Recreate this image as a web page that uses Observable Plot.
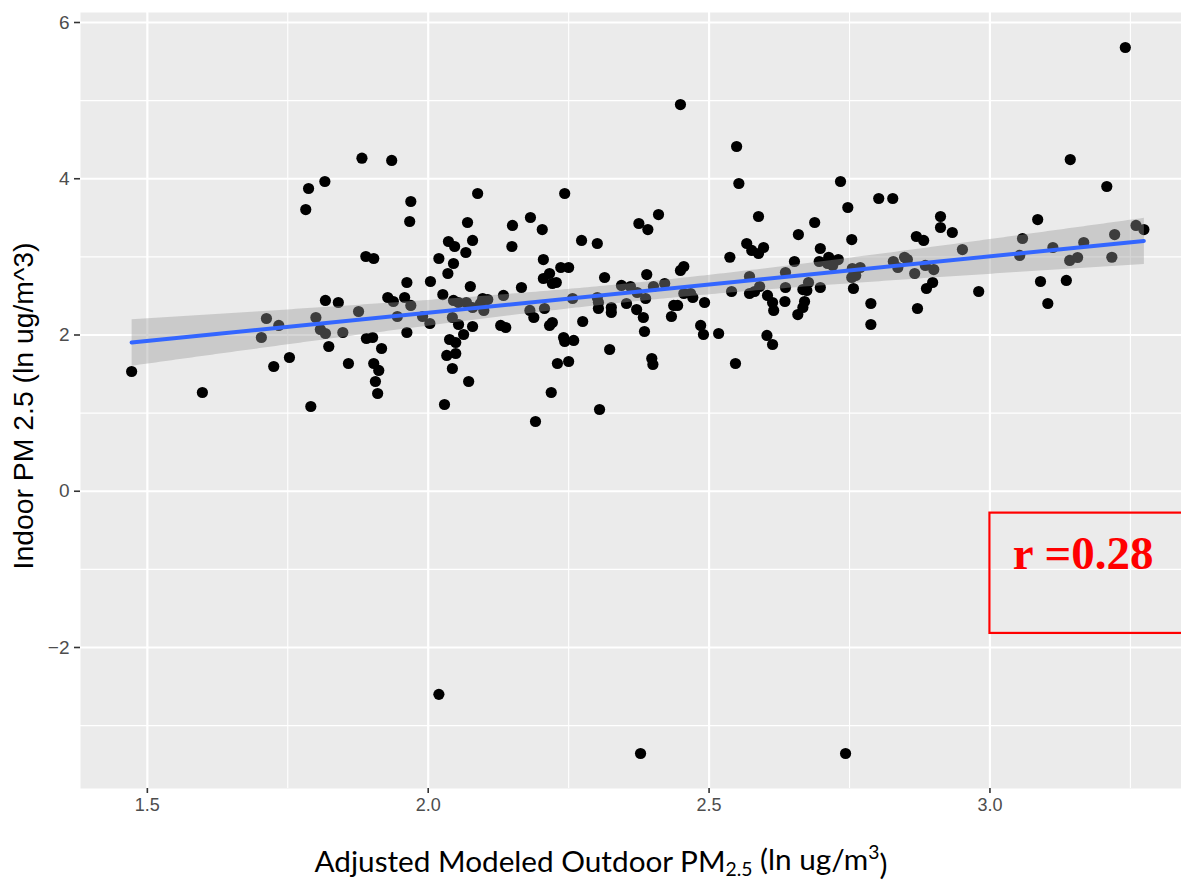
<!DOCTYPE html>
<html>
<head>
<meta charset="utf-8">
<script src="https://cdn.jsdelivr.net/npm/d3@7"></script>
<script src="https://cdn.jsdelivr.net/npm/@observablehq/plot@0.6"></script>
<style>
  html, body { margin: 0; padding: 0; background: #ffffff; overflow: hidden; }
  #chart svg { display: block; }
</style>
</head>
<body>
<div id="chart"></div>
<script>
// Adjusted modeled outdoor PM2.5 (ln ug/m3)
const outdoorPM = [
  1.882, 1.935, 1.787, 1.816, 1.782, 1.889, 1.903, 1.817, 1.840, 1.928,
  1.938, 1.712, 1.734, 1.703, 1.800, 1.808, 1.817, 1.848, 1.876, 1.945,
  1.890, 1.901, 1.823, 1.917, 1.753, 1.725, 1.858, 1.903, 1.912, 1.906,
  1.910, 1.472, 1.598, 1.791,
  2.088, 2.243, 1.969, 1.967, 2.070, 2.182, 2.150, 2.203, 2.375, 2.391,
  2.410, 2.036, 2.047, 2.079, 2.067, 2.149, 2.273, 2.301, 2.019, 2.045,
  2.035, 2.205, 2.236, 2.250, 2.216, 2.205, 2.221, 2.228, 2.166, 2.314,
  2.389, 2.449, 2.455, 1.962, 2.004, 2.075, 1.958, 1.969, 2.026, 2.045,
  2.054, 2.068, 2.097, 2.106, 2.093, 2.134, 2.257, 2.301, 2.303, 2.344,
  2.360, 2.372, 2.401, 2.421, 2.387, 2.353, 2.455, 1.990, 2.003, 1.962,
  2.043, 2.054, 2.079, 2.063, 2.099, 2.079, 2.129, 2.138, 2.181, 2.188,
  2.207, 2.216, 2.221, 2.275, 2.303, 2.326, 2.326, 2.371, 2.383, 2.385,
  2.433, 2.437, 2.444, 2.038, 2.049, 2.033, 2.049, 2.043, 2.072, 2.241,
  2.243, 2.259, 2.323, 2.230, 2.250, 2.398, 2.400, 2.219, 2.029, 2.305,
  2.191,
  2.549, 2.553, 2.734, 2.747, 2.802, 2.827, 2.588, 2.688, 2.659, 2.754,
  2.567, 2.576, 2.588, 2.597, 2.537, 2.698, 2.713, 2.730, 2.696, 2.652,
  2.711, 2.720, 2.467, 2.471, 2.492, 2.572, 2.636, 2.677, 2.590, 2.581,
  2.572, 2.540, 2.636, 2.667, 2.674, 2.698, 2.604, 2.613, 2.615, 2.635,
  2.670, 2.667, 2.658, 2.755, 2.769, 2.761, 2.754, 2.757, 2.828, 2.848,
  2.836, 2.788, 2.788, 2.485, 2.490, 2.517, 2.603, 2.613, 2.547, 2.449,
  3.241, 3.143, 3.208, 3.085, 2.912, 2.912, 2.933, 2.869, 2.882, 2.951,
  2.853, 2.885, 2.900, 2.866, 2.898, 2.887, 2.871, 2.980, 3.058, 3.053,
  3.112, 3.142, 3.156, 3.167, 3.222, 3.217, 3.260, 3.274, 3.090, 3.136,
  3.103,
  2.019, 2.378, 2.743
];
// Indoor PM 2.5 (ln ug/m^3)
const indoorPM = [
  4.263, 4.234, 3.875, 3.965, 3.606, 3.005, 2.979, 2.442, 2.416, 2.480,
  2.429, 2.211, 2.122, 1.968, 2.224, 2.070, 2.019, 2.032, 2.301, 2.237,
  1.955, 1.968, 1.853, 1.827, 1.712, 1.597, 1.635, 1.635, 1.546, 1.405,
  1.251, 1.533, 1.264, 1.085,
  3.811, 3.811, 3.709, 3.453, 3.440, 3.504, 3.402, 3.350, 3.427, 3.350,
  3.542, 3.197, 3.133, 3.210, 3.056, 3.133, 3.210, 3.171, 2.979, 2.915,
  2.787, 2.966, 2.864, 2.864, 2.787, 2.723, 2.659, 2.672, 2.608, 2.736,
  2.774, 2.826, 2.877, 2.672, 2.685, 2.621, 2.480, 2.378, 2.518, 2.442,
  2.416, 2.416, 2.467, 2.454, 2.403, 2.506, 2.467, 2.480, 2.416, 2.634,
  2.621, 2.544, 2.621, 2.659, 2.467, 2.403, 2.531, 2.237, 2.147, 2.032,
  2.224, 2.134, 2.109, 2.006, 2.314, 2.352, 2.122, 2.096, 2.314, 2.224,
  2.339, 2.122, 2.160, 2.173, 2.339, 2.352, 2.288, 2.326, 2.224, 2.045,
  2.237, 2.378, 2.378, 1.942, 1.904, 1.738, 1.763, 1.571, 1.405, 1.968,
  1.917, 1.930, 1.814, 1.635, 1.661, 1.699, 1.622, 1.264, 1.110, 1.046,
  0.893,
  4.413, 3.939, 3.965, 3.632, 3.747, 3.747, 3.517, 3.440, 3.286, 3.222,
  3.171, 3.082, 3.043, 3.120, 2.995, 3.107, 2.995, 2.966, 2.941, 2.941,
  2.915, 2.890, 2.531, 2.480, 2.416, 2.749, 2.800, 2.672, 2.621, 2.557,
  2.531, 2.557, 2.608, 2.582, 2.570, 2.608, 2.506, 2.416, 2.314, 2.429,
  2.429, 2.352, 2.262, 2.851, 2.864, 2.762, 2.736, 2.595, 2.941, 2.995,
  2.864, 2.403, 2.134, 2.122, 2.006, 2.019, 1.994, 1.878, 1.635, 4.950,
  5.680, 4.246, 3.901, 3.478, 3.517, 3.376, 3.312, 3.261, 3.210, 3.094,
  2.966, 2.890, 2.838, 2.787, 2.672, 2.595, 2.339, 2.557, 3.235, 3.018,
  3.120, 2.954, 2.992, 3.184, 3.286, 2.995, 3.402, 3.350, 2.685, 2.698,
  2.403,
  -2.600, -3.357, -3.357
];

const xMajor = [1.5, 2.0, 2.5, 3.0];
const xMinor = [1.75, 2.25, 2.75, 3.25];
const yMajor = [-2, 0, 2, 4, 6];
const yMinor = [-3, -1, 1, 3, 5];

const xTitle = ["Adjusted Modeled Outdoor PM", "2.5", " (ln ug/m", "3", ")"];
const yTitle = "Indoor PM 2.5 (ln ug/m^3)";

const rBox = [{x1: 3.0, x2: 3.4, y1: -1.82, y2: -0.28}];
const rLabel = [{x: 3.166, y: -1.0, text: "r =0.28"}];

const points = outdoorPM.map((x, i) => ({x, y: indoorPM[i]}));

const W = 1181, H = 882;
const chart = Plot.plot({
  width: W,
  height: H,
  marginTop: 12,
  marginBottom: 94,
  marginLeft: 80,
  marginRight: 0,
  style: {fontFamily: "Liberation Sans, Arial, sans-serif", background: "#ffffff", color: "#4D4D4D"},
  x: {domain: [1.381, 3.341], label: null},
  y: {domain: [-3.805, 6.128], label: null},
  marks: [
    Plot.frame({fill: "#EBEBEB", stroke: null}),
    Plot.ruleX(xMinor, {stroke: "#ffffff", strokeWidth: 1.1}),
    Plot.ruleY(yMinor, {stroke: "#ffffff", strokeWidth: 1.1}),
    Plot.ruleX(xMajor, {stroke: "#ffffff", strokeWidth: 2.2}),
    Plot.ruleY(yMajor, {stroke: "#ffffff", strokeWidth: 2.2}),
    Plot.dot(points, {x: "x", y: "y", r: 5.6, fill: "#000000", stroke: null}),
    Plot.linearRegressionY(points, {x: "x", y: "y", stroke: "#3366FF", strokeWidth: 4, fill: "#999999", fillOpacity: 0.4}),
    Plot.rect(rBox, {x1: "x1", x2: "x2", y1: "y1", y2: "y2", fill: "none", stroke: "#FF0000", strokeWidth: 2.2}),
    Plot.text(rLabel, {x: "x", y: "y", text: "text", fill: "#FF0000", fontSize: 47, fontWeight: "bold",
      fontFamily: "Liberation Serif, Times New Roman, serif", textAnchor: "middle", lineAnchor: "bottom"}),
    Plot.axisX({ticks: xMajor, tickFormat: d3.format(".1f"), tickSize: 5, tickPadding: 5, fontSize: 18,
      stroke: "#333333", strokeWidth: 1.6, fill: "#4D4D4D", label: null}),
    Plot.axisY({ticks: yMajor, tickFormat: d => d < 0 ? "\u2212" + Math.abs(d) : String(d), tickSize: 6,
      tickPadding: 5, fontSize: 19, stroke: "#333333", strokeWidth: 1.6, fill: "#4D4D4D", label: null})
  ]
});
document.getElementById("chart").appendChild(chart);

const svg = d3.select(chart);
// x axis title with subscript/superscript
const xt = svg.append("text")
  .attr("x", 601).attr("y", 872)
  .attr("text-anchor", "middle")
  .attr("fill", "#000000")
  .style("font-family", "Lato, 'Open Sans', sans-serif")
  .style("font-size", "27px");
xt.append("tspan").text(xTitle[0]);
xt.append("tspan").attr("dy", "0.22em").style("font-size", "0.65em").text(xTitle[1]);
xt.append("tspan").attr("dy", "-0.22em").text(xTitle[2]);
xt.append("tspan").attr("dy", "-0.55em").style("font-size", "0.65em").text(xTitle[3]);
xt.append("tspan").attr("dy", "0.55em").text(xTitle[4]);
// fit width to reference (~573px)
let len = xt.node().getComputedTextLength();
if (len > 0) xt.style("font-size", (27 * 573 / len).toFixed(2) + "px");

// y axis title
const yt = svg.append("text")
  .attr("transform", "translate(33,406) rotate(-90)")
  .attr("text-anchor", "middle")
  .attr("fill", "#000000")
  .style("font-family", "Liberation Sans, Arial, sans-serif")
  .style("font-size", "24px")
  .text(yTitle);
len = yt.node().getComputedTextLength();
if (len > 0) yt.style("font-size", (24 * 327 / len).toFixed(2) + "px");
</script>
</body>
</html>
